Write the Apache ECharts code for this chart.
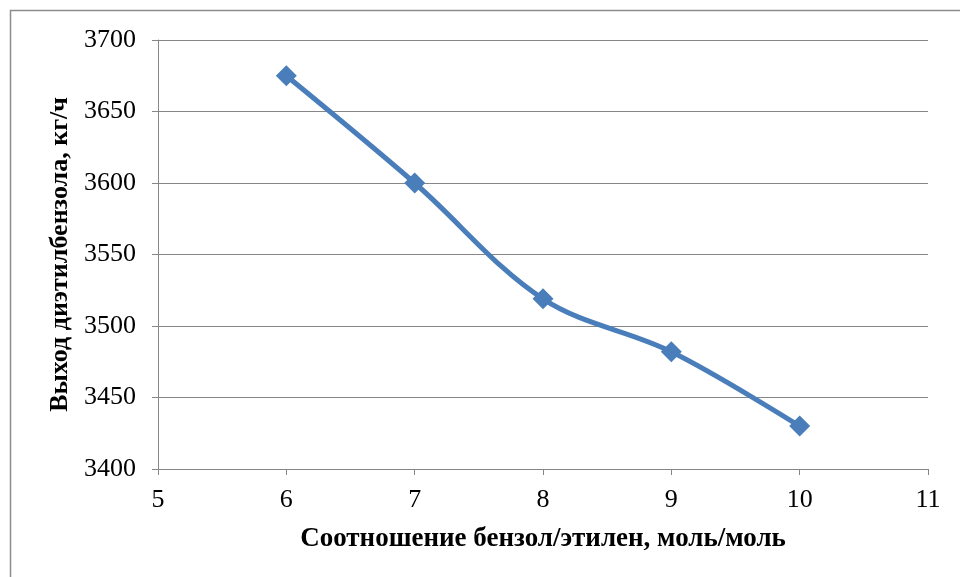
<!DOCTYPE html>
<html>
<head>
<meta charset="utf-8">
<script src="https://cdn.jsdelivr.net/npm/echarts@6/dist/echarts.min.js"></script>
<style>
  html, body { margin: 0; padding: 0; background: #fff; }
  #chart { width: 960px; height: 577px; }
</style>
</head>
<body>
<div id="chart"></div>
<script>
// Molar ratio benzene/ethylene and diethylbenzene output
const ratios = [6, 7, 8, 9, 10];
const outputKgH = [3675, 3600, 3519, 3482, 3430];
const xTitle = 'Соотношение бензол/этилен, моль/моль';
const yTitle = 'Выход диэтилбензола, кг/ч';

const chart = echarts.init(document.getElementById('chart'), null, { renderer: 'canvas' });
const serif = '"Liberation Serif", "Times New Roman", serif';
const gridColor = '#868686';

chart.setOption({
  animation: false,
  backgroundColor: '#fff',
  graphic: [{
    type: 'rect',
    shape: { x: 10.5, y: 10.5, width: 1000, height: 1000 },
    style: { fill: 'none', stroke: '#8c8c8c', lineWidth: 1.5 },
    silent: true
  }],
  grid: { left: 158, right: 32, top: 40, bottom: 108 },
  xAxis: {
    type: 'value',
    min: 5, max: 11, interval: 1,
    name: xTitle,
    nameLocation: 'middle',
    nameGap: 57,
    nameTextStyle: { fontFamily: serif, fontSize: 27, fontWeight: 'bold', color: '#000' },
    axisLine: { show: true, lineStyle: { color: gridColor, width: 1 } },
    axisTick: { show: true, length: 6, lineStyle: { color: gridColor } },
    axisLabel: { fontFamily: serif, fontSize: 26, color: '#000', margin: 18 },
    splitLine: { show: false }
  },
  yAxis: {
    type: 'value',
    min: 3400, max: 3700, interval: 50,
    name: yTitle,
    nameLocation: 'middle',
    nameGap: 84,
    nameTextStyle: { fontFamily: serif, fontSize: 26, fontWeight: 'bold', color: '#000' },
    axisLine: { show: true, lineStyle: { color: gridColor, width: 1 } },
    axisTick: { show: true, length: 6, lineStyle: { color: gridColor } },
    axisLabel: { fontFamily: serif, fontSize: 26, color: '#000', margin: 22, formatter: v => String(v) },
    splitLine: { show: true, lineStyle: { color: gridColor, width: 1 } }
  },
  series: [{
    type: 'line',
    data: ratios.map((r, i) => [r, outputKgH[i]]),
    smooth: 0.35,
    symbol: 'diamond',
    symbolSize: 21,
    lineStyle: { color: '#4a7ebb', width: 5 },
    itemStyle: { color: '#4a7ebb' }
  }]
});
</script>
</body>
</html>
